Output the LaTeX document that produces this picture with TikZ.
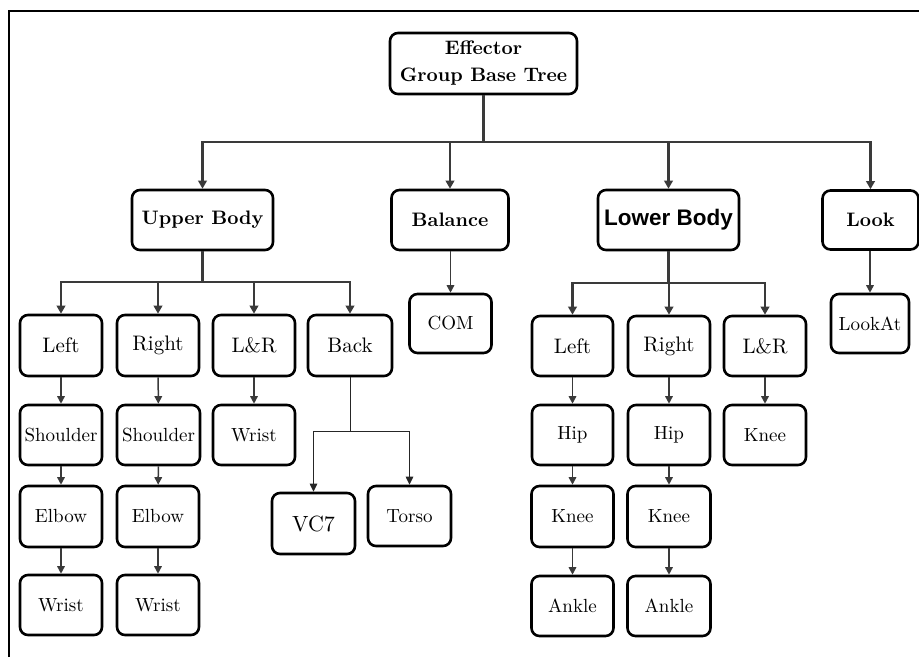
\documentclass[tikz,border=0pt]{standalone}
\usepackage{fontspec}
% text face: Latin Modern at its 10pt design size at every size (sturdier strokes)
\setmainfont{lmroman10}[
  Extension=.otf,
  UprightFont=*-regular,
  BoldFont=*-bold,
  ItalicFont=*-italic,
  BoldItalicFont=*-bolditalic]
\newfontfamily\headsans{Liberation Sans}
\usetikzlibrary{arrows.meta}

\definecolor{linkgray}{HTML}{3A3A3A}

\tikzset{
  box/.style={draw=black, line width=2.6pt, rounded corners=8pt, fill=white,
    inner sep=0pt, align=center, text=black},
  headbox/.style={box, font=\bfseries\fontsize{19.5}{27}\selectfont},
  midbox/.style={box, font=\fontsize{21}{27}\selectfont},
  leafbox/.style={box, font=\fontsize{19}{24}\selectfont},
  trunk/.style={draw=linkgray, line width=2.8pt},
  trunkarrow/.style={trunk, -{Triangle[length=8pt,width=8.5pt]}},
  twig/.style={draw=linkgray, line width=1.5pt, -{Triangle[length=7.5pt,width=7.5pt]}},
  hair/.style={draw=black!85, line width=1pt},
  hairarrow/.style={hair, -{Triangle[length=8pt,width=7.5pt]}},
}

\begin{document}
\begin{tikzpicture}[x=1pt, y=-1pt]
\useasboundingbox (0,0) rectangle (919,657);

% page frame (top and left edges)
\draw[line width=1.5pt] (9,657) -- (9,11) -- (919,11);

% root
\node[headbox, minimum width=187pt, minimum height=61pt] (root) at (483.5,63.5)
  {Effector\\Group Base Tree};

% first level
\node[headbox, minimum width=141pt, minimum height=60pt] (ub) at (202.5,220) {Upper Body};
\node[headbox, minimum width=117pt, minimum height=60pt] (bal) at (450,220) {Balance};
\node[box, font=\headsans\bfseries\fontsize{22.5}{27}\selectfont,
      minimum width=141pt, minimum height=60pt] (lb) at (668.5,220) {Lower Body};
\node[headbox, minimum width=96pt, minimum height=59pt] (look) at (870.5,220) {Look};

% upper body branch
\node[midbox, minimum width=82pt, minimum height=61pt] (uL)  at (61,345.5) {Left};
\node[midbox, minimum width=82pt, minimum height=61pt] (uR)  at (158,345.5) {Right};
\node[midbox, minimum width=82pt, minimum height=61pt] (uLR) at (254,345.5) {L\&R};
\node[midbox, minimum width=84pt, minimum height=61pt] (uB)  at (350,345.5) {Back};

\node[leafbox, minimum width=82pt, minimum height=60pt] (uLs)  at (61,435) {Shoulder};
\node[leafbox, minimum width=83pt, minimum height=60pt] (uRs)  at (158.5,435) {Shoulder};
\node[leafbox, minimum width=82pt, minimum height=60pt] (uLRw) at (254,435) {Wrist};

\node[leafbox, minimum width=82pt, minimum height=61pt] (uLe) at (61,516.5) {Elbow};
\node[leafbox, minimum width=82pt, minimum height=61pt] (uRe) at (158,516.5) {Elbow};
\node[leafbox, minimum width=82pt, minimum height=60pt] (uLw) at (61,605) {Wrist};
\node[leafbox, minimum width=82pt, minimum height=60pt] (uRw) at (158,605) {Wrist};

\node[box, font=\fontsize{22}{26}\selectfont, minimum width=83pt, minimum height=61pt]
  (vc7) at (313.5,523.5) {VC7};
\node[leafbox, minimum width=83pt, minimum height=60pt] (torso) at (409.5,516) {Torso};

% balance branch
\node[leafbox, minimum width=82pt, minimum height=59pt] (com) at (450.5,323.5) {COM};

% lower body branch
\node[midbox, minimum width=81pt, minimum height=60pt] (lL)  at (572.5,346) {Left};
\node[midbox, minimum width=82pt, minimum height=60pt] (lR)  at (669,346) {Right};
\node[midbox, minimum width=82pt, minimum height=60pt] (lLR) at (765,346) {L\&R};

\node[leafbox, minimum width=81pt, minimum height=60pt] (lLh)  at (572.5,435) {Hip};
\node[leafbox, minimum width=82pt, minimum height=60pt] (lRh)  at (669,435) {Hip};
\node[leafbox, minimum width=82pt, minimum height=60pt] (lLRk) at (765,435) {Knee};

\node[leafbox, minimum width=82pt, minimum height=61pt] (lLk) at (572.5,516.5) {Knee};
\node[leafbox, minimum width=83pt, minimum height=61pt] (lRk) at (669,516.5) {Knee};
\node[leafbox, minimum width=82pt, minimum height=60pt] (lLa) at (572.5,606) {Ankle};
\node[leafbox, minimum width=83pt, minimum height=60pt] (lRa) at (669,606) {Ankle};

% look branch
\node[leafbox, minimum width=78pt, minimum height=59pt] (lookat) at (870,323.5) {LookAt};

% bus levels
\coordinate (rootbus) at (0,142);
\coordinate (ubbus) at (0,282);
\coordinate (lbbus) at (0,283);
\coordinate (backbus) at (0,431);

% root to first level
\foreach \c in {ub,bal,lb,look}
  \draw[trunkarrow] (root.south) -- (root.south |- rootbus) -| (\c.north);

% upper body to its groups
\foreach \c in {uL,uR,uLR,uB}
  \draw[trunkarrow] (ub.south) -- (ub.south |- ubbus) -| (\c.north);

% lower body to its groups
\foreach \c in {lL,lR,lLR}
  \draw[trunkarrow] (lb.south) -- (lb.south |- lbbus) -| (\c.north);

% single chains
\draw[twig] (uL) -- (uLs);
\draw[twig] (uLs) -- (uLe);
\draw[twig] (uLe) -- (uLw);
\draw[twig] (uR) -- (uRs);
\draw[twig] (uRs) -- (uRe);
\draw[twig] (uRe) -- (uRw);
\draw[twig] (uLR) -- (uLRw);
\draw[twig] (bal.south -| com.north) -- (com.north);
\draw[twig] (lL) -- (lLh);
\draw[twig] (lLh) -- (lLk);
\draw[twig] (lLk) -- (lLa);
\draw[twig] (lR) -- (lRh);
\draw[twig] (lRh) -- (lRk);
\draw[twig] (lRk) -- (lRa);
\draw[twig] (lLR) -- (lLRk);
\draw[twig] (look.south -| lookat.north) -- (lookat.north);

% back split
\foreach \c in {vc7,torso}
  \draw[hairarrow] (uB.south) -- (uB.south |- backbus) -| (\c.north);

\end{tikzpicture}
\end{document}
